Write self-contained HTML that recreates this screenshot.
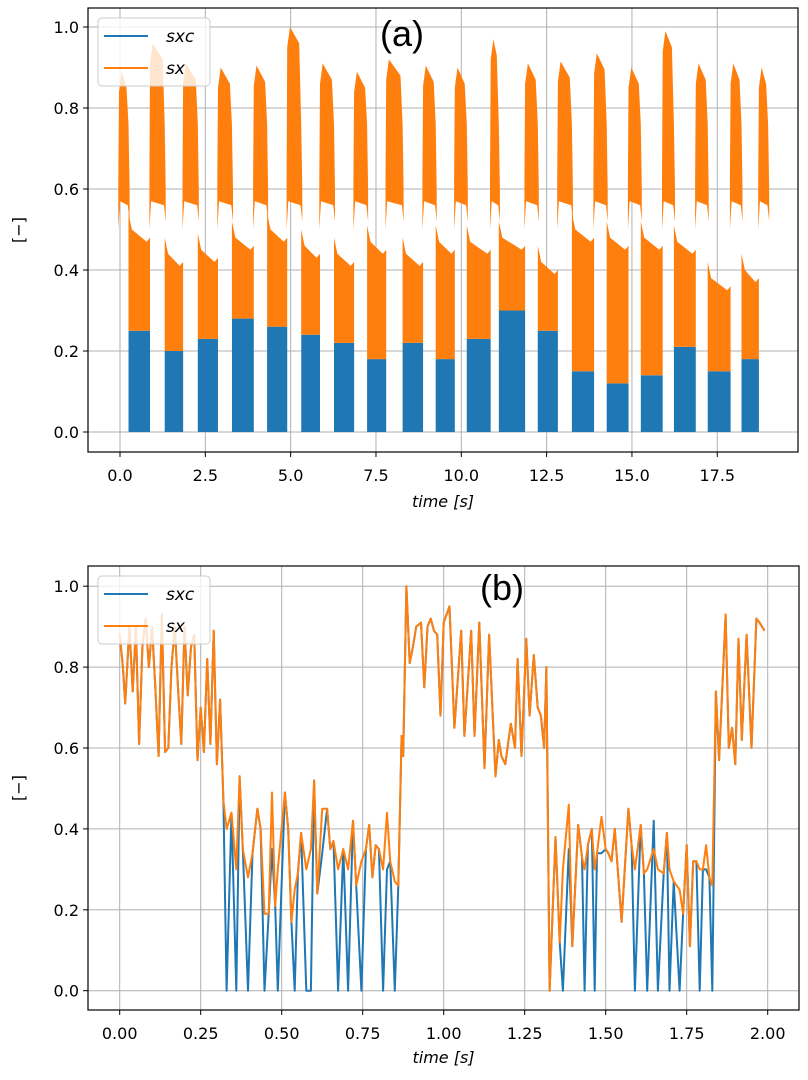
<!DOCTYPE html>
<html><head><meta charset="utf-8"><style>
body{margin:0;background:#fff;}
svg{display:block;font-family:"DejaVu Sans","Liberation Sans",sans-serif;}
</style></head><body>
<svg id="fig" width="808" height="1080" viewBox="0 0 808 1080" xmlns="http://www.w3.org/2000/svg">
<rect x="0" y="0" width="808" height="1080" fill="#fff"/>
<g id="topChart"></g>
<g id="botChart"></g>
</svg>
<script>
// ---- Chart (a) data: per-cycle envelopes ----
var lowStart=[0.25,1.31,2.28,3.28,4.31,5.31,6.27,7.24,8.28,9.25,10.16,11.1,12.24,13.24,14.26,15.26,16.23,17.22,18.21];
var lowEnd=[0.88,1.85,2.87,3.92,4.9,5.86,6.86,7.8,8.88,9.81,10.86,11.87,12.83,13.89,14.9,15.9,16.87,17.89,18.72];
var blueTop=[0.25,0.2,0.23,0.28,0.26,0.24,0.22,0.18,0.22,0.18,0.23,0.3,0.25,0.15,0.12,0.14,0.21,0.15,0.18];
var lowTop=[0.5,0.44,0.45,0.48,0.5,0.46,0.44,0.47,0.44,0.47,0.47,0.48,0.42,0.5,0.48,0.48,0.47,0.38,0.4];
var highPeak=[0.89,0.96,0.91,0.9,0.905,1.0,0.91,0.89,0.92,0.905,0.9,0.97,0.91,0.915,0.935,0.9,0.99,0.91,0.91,0.9];
var topXTicks=["0.0","2.5","5.0","7.5","10.0","12.5","15.0","17.5"];
var topXTickVals=[0,2.5,5,7.5,10,12.5,15,17.5];
var yTickLabels=["0.0","0.2","0.4","0.6","0.8","1.0"];
var yTickVals=[0,0.2,0.4,0.6,0.8,1.0];
// ---- Chart (b) data ----
var bT=[0,0.01,0.017,0.03,0.04,0.05,0.06,0.07,0.08,0.09,0.10,0.11,0.12,0.13,0.14,0.15,0.16,0.17,0.18,0.19,0.20,0.21,0.22,0.23,0.24,0.25,0.26,0.27,0.28,0.29,0.30,0.31,0.32,
0.33,0.345,0.36,0.37,0.38,0.396,0.41,0.425,0.435,0.447,0.46,0.47,0.48,0.488,0.51,0.52,0.53,0.54,0.55,0.56,0.576,0.59,0.60,0.61,0.625,0.64,0.65,0.66,0.674,0.69,0.705,0.72,0.73,0.746,0.76,0.77,0.78,0.79,0.80,0.813,0.825,0.835,0.849,0.86,
0.87,0.875,0.885,0.895,0.905,0.915,0.93,0.94,0.95,0.96,0.97,0.98,0.99,1.00,1.018,1.033,1.054,1.064,1.085,1.095,1.11,1.126,1.14,1.16,1.17,1.178,1.19,1.207,1.22,1.228,1.24,1.255,1.265,1.278,1.29,1.30,1.31,1.317,
1.327,1.345,1.358,1.368,1.386,1.397,1.415,1.427,1.435,1.445,1.457,1.466,1.473,1.487,1.50,1.508,1.518,1.528,1.549,1.57,1.58,1.59,1.608,1.618,1.628,1.648,1.661,1.679,1.689,1.697,1.71,1.728,1.739,1.75,1.76,1.77,1.78,1.79,1.80,1.81,1.82,1.829,
1.84,1.85,1.87,1.88,1.89,1.90,1.91,1.92,1.935,1.95,1.965,1.975,1.99];
var bSx=[0.88,0.80,0.71,0.90,0.74,0.90,0.61,0.85,0.92,0.80,0.90,0.75,0.58,0.93,0.59,0.60,0.80,0.90,0.75,0.61,0.90,0.73,0.85,0.88,0.57,0.70,0.59,0.82,0.61,0.89,0.56,0.72,0.47,
0.40,0.44,0.30,0.53,0.35,0.28,0.34,0.45,0.40,0.19,0.19,0.49,0.21,0.30,0.49,0.40,0.17,0.25,0.29,0.39,0.30,0.35,0.52,0.24,0.45,0.45,0.35,0.37,0.30,0.35,0.30,0.42,0.26,0.32,0.35,0.41,0.28,0.36,0.35,0.30,0.44,0.32,0.27,0.26,
0.63,0.58,1.00,0.81,0.85,0.90,0.91,0.75,0.90,0.92,0.89,0.88,0.68,0.91,0.95,0.65,0.89,0.63,0.89,0.63,0.91,0.55,0.88,0.53,0.62,0.58,0.56,0.66,0.60,0.82,0.58,0.87,0.68,0.83,0.70,0.68,0.60,0.80,
0.0,0.38,0.12,0.30,0.46,0.11,0.41,0.33,0.30,0.36,0.40,0.30,0.34,0.43,0.35,0.34,0.32,0.40,0.17,0.45,0.36,0.30,0.41,0.29,0.30,0.35,0.30,0.29,0.39,0.30,0.27,0.25,0.19,0.36,0.11,0.32,0.32,0.30,0.30,0.36,0.28,0.26,
0.74,0.57,0.93,0.60,0.65,0.56,0.87,0.62,0.88,0.60,0.92,0.91,0.89];
var bSxc=[0.88,0.80,0.71,0.90,0.74,0.90,0.61,0.85,0.92,0.80,0.90,0.75,0.58,0.93,0.59,0.60,0.80,0.90,0.75,0.61,0.90,0.73,0.85,0.88,0.57,0.70,0.59,0.82,0.61,0.89,0.56,0.72,0.47,
0,0.44,0,0.53,0.35,0,0.34,0.45,0.40,0,0.19,0.35,0.21,0,0.49,0.40,0.17,0,0.29,0.39,0,0,0.52,0.24,0.34,0.45,0.35,0.37,0,0.35,0,0.42,0.26,0,0.35,0.41,0.28,0.36,0.35,0,0.30,0.32,0,0.26,
0.63,0.58,1.00,0.81,0.85,0.90,0.91,0.75,0.90,0.92,0.89,0.88,0.68,0.91,0.95,0.65,0.89,0.63,0.89,0.63,0.91,0.55,0.88,0.53,0.62,0.58,0.56,0.66,0.60,0.82,0.58,0.87,0.68,0.83,0.70,0.68,0.60,0.80,
0.0,0.38,0.12,0,0.35,0.11,0.41,0.33,0,0.36,0.40,0,0.34,0.34,0.35,0.34,0.32,0.40,0.17,0.45,0.36,0,0.41,0.29,0,0.42,0,0.29,0.39,0,0.27,0,0.19,0.36,0.11,0.32,0.32,0,0.30,0.30,0.28,0,
0.74,0.57,0.93,0.60,0.65,0.56,0.87,0.62,0.88,0.60,0.92,0.91,0.89];
var botXTicks=["0.00","0.25","0.50","0.75","1.00","1.25","1.50","1.75","2.00"];
var botXTickVals=[0,0.25,0.5,0.75,1,1.25,1.5,1.75,2];

var NS="http://www.w3.org/2000/svg";
var BLUE="#1f77b4", ORANGE="#ff7f0e";
function mk(tag,attrs,parent){var e=document.createElementNS(NS,tag);for(var k in attrs)e.setAttribute(k,attrs[k]);parent.appendChild(e);return e;}

function axes(g,L,T,R,B,X,Y,xt,xtv){
  var gg=mk('g',{},g);
  
  
  xtv.forEach(function(v){var l=mk('line',{x1:X(v),x2:X(v),y1:T,y2:B,stroke:'#b0b0b0','stroke-width':1},gg);
    
    });
  yTickVals.forEach(function(v){var l=mk('line',{x1:L,x2:R,y1:Y(v),y2:Y(v),stroke:'#b0b0b0','stroke-width':1},gg);
    
    });
  return gg;
}
function frame(g,L,T,R,B,X,Y,xt,xtv,xlabY,title,titleX,titleY){
  var f=mk('rect',{x:L,y:T,width:R-L,height:B-T,fill:'none',stroke:'#000','stroke-width':1.2},g);
  
  
  xtv.forEach(function(v,i){
    var t=mk('line',{x1:X(v),x2:X(v),y1:B,y2:B+5,stroke:'#000','stroke-width':1},g);
    
    
    var tx=mk('text',{x:X(v),y:B+29,'font-size':16,'text-anchor':'middle',fill:'#000'},g);
    tx.textContent=xt[i];
    
    
  });
  yTickVals.forEach(function(v,i){
    var t=mk('line',{x1:L-5,x2:L,y1:Y(v),y2:Y(v),stroke:'#000','stroke-width':1},g);
    
    
    var tx=mk('text',{x:L-9,y:Y(v)+6,'font-size':16,'text-anchor':'end',fill:'#000'},g);
    tx.textContent=yTickLabels[i];
    
    
  });
  var xl=mk('text',{x:(L+R)/2,y:xlabY,'font-size':16,'text-anchor':'middle','font-style':'italic',fill:'#000'},g);
  xl.textContent='time [s]';
  
  
  var cy=(T+B)/2;
  var yl=mk('text',{x:24,y:cy,'font-size':16,'text-anchor':'middle',fill:'#000',transform:'rotate(-90 24 '+cy+')'},g);
  yl.textContent='[\u2212]';
  
  
  var tt=mk('text',{x:titleX,y:titleY,'font-size':36,'text-anchor':'middle',fill:'#000','font-family':'Liberation Sans, sans-serif'},g);
  tt.textContent=title;
  
  
  var lg=mk('g',{},g);
  
  
  var bx=mk('rect',{x:L+10,y:T+10,width:112,height:68,rx:4,fill:'#fff','fill-opacity':0.8,stroke:'#ccc','stroke-width':1},lg);
  
  
  [['sxc',BLUE,28],['sx',ORANGE,60]].forEach(function(e){
    var ln=mk('line',{x1:L+16,x2:L+60,y1:T+e[2],y2:T+e[2],stroke:e[1],'stroke-width':2},lg);
    
    
    var tx=mk('text',{x:L+78,y:T+e[2]+6,'font-size':17,'font-style':'italic',fill:'#000'},lg);
    tx.textContent=e[0];
    
    
  });
}

// ---- Chart (a) ----
(function(){
  var g=document.getElementById('topChart');
  var L=88,T=8,R=798,B=452;
  var X=function(t){return 120+t*34.13;};
  var Y=function(v){return 432-v*405;};
  axes(g,L,T,R,B,X,Y,topXTicks,topXTickVals);
  var d=mk('g',{},g);
  
  
  function P(a){return a.map(function(p){return X(p[0]).toFixed(1)+','+Y(p[1]).toFixed(1);}).join(' ');}
  lowStart.forEach(function(s,i){
    var e=lowEnd[i];
    var r=mk('rect',{x:X(s),y:Y(blueTop[i]),width:X(e)-X(s),height:Y(0)-Y(blueTop[i]),fill:BLUE},d);
    
    
  });
  lowStart.forEach(function(s,i){
    var e=lowEnd[i],bt=blueTop[i],lt=lowTop[i];
    var p=mk('polygon',{points:P([[s,lt+0.04],[s+0.1,lt],[e-0.1,lt-0.03],[e,lt-0.02],[e,bt],[s,bt]]),fill:ORANGE},d);
    
    
  });
  highPeak.forEach(function(pk,i){
    var s=i===0?-0.05:lowEnd[i-1]-0.02;
    var e=i<lowStart.length?lowStart[i]:18.99;
    var pts=[[s,0.62],[s+0.02,pk-0.05],[s+0.1,pk],[e-0.06,pk-0.04],[e,0.76],[e+0.03,0.6],
             [e+0.03,0.52],[e-0.02,0.56],[s+0.05,0.57],[s,0.5]];
    var p=mk('polygon',{points:P(pts),fill:ORANGE},d);
    
    
  });
  frame(g,L,T,R,B,X,Y,topXTicks,topXTickVals,507,'(a)',402,46);
})();

// ---- Chart (b) ----
(function(){
  var g=document.getElementById('botChart');
  var L=88,T=566,R=799,B=1010;
  var X=function(t){return 119.7+t*324;};
  var Y=function(v){return 990.7-v*404.5;};
  axes(g,L,T,R,B,X,Y,botXTicks,botXTickVals);
  function path(vals){return bT.map(function(t,i){return (i?'L':'M')+X(t).toFixed(1)+','+Y(vals[i]).toFixed(1);}).join('');}
  var p1=mk('path',{d:path(bSxc),fill:'none',stroke:BLUE,'stroke-width':2,'stroke-linejoin':'round'},g);
  
  
  var p2=mk('path',{d:path(bSx),fill:'none',stroke:ORANGE,'stroke-width':2,'stroke-linejoin':'round'},g);
  
  
  frame(g,L,T,R,B,X,Y,botXTicks,botXTickVals,1063,'(b)',502,600);
})();
</script>
</body></html>
